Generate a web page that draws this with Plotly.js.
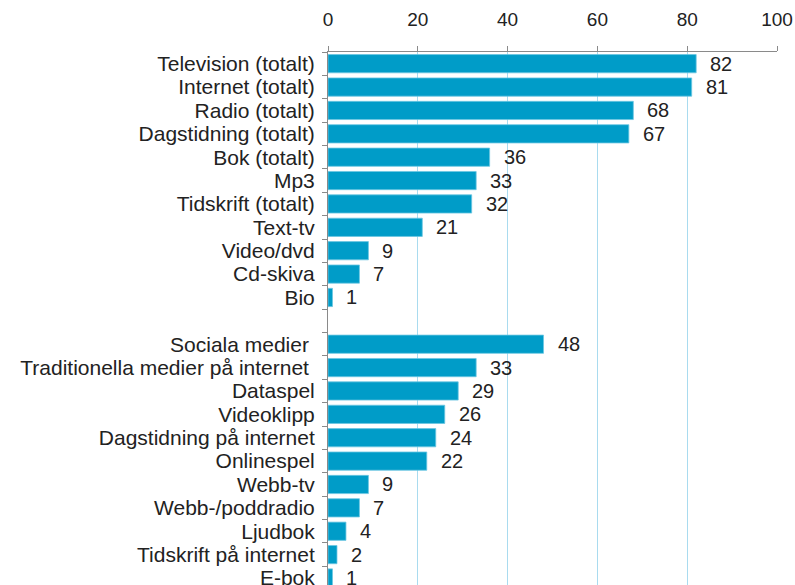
<!DOCTYPE html>
<html>
<head>
<meta charset="utf-8">
<script src="https://cdn.plot.ly/plotly-3.0.1.min.js"></script>
<style>html,body{margin:0;padding:0;background:#fff;}#chart{width:795px;height:585px;}</style>
</head>
<body>
<div id="chart"></div>
<script>
// Group 1: traditional media (totalt)
const group1Labels = ["Television (totalt)", "Internet (totalt)", "Radio (totalt)", "Dagstidning (totalt)", "Bok (totalt)", "Mp3", "Tidskrift (totalt)", "Text-tv", "Video/dvd", "Cd-skiva", "Bio"];
const group1Values = [82, 81, 68, 67, 36, 33, 32, 21, 9, 7, 1];
// Group 2: internet activities
const group2Labels = ["Sociala medier ", "Traditionella medier på internet ", "Dataspel", "Videoklipp", "Dagstidning på internet", "Onlinespel", "Webb-tv", "Webb-/poddradio", "Ljudbok", "Tidskrift på internet", "E-bok"];
const group2Values = [48, 33, 29, 26, 24, 22, 9, 7, 4, 2, 1];
const spacerLabel = " ";
const xTicks = [0, 20, 40, 60, 80, 100];

const categories = group1Labels.concat([spacerLabel], group2Labels);
const values = group1Values.concat([null], group2Values);

const font = "Liberation Sans, Arial, sans-serif";

const trace = {
  type: "bar",
  orientation: "h",
  x: values,
  y: categories,
  width: 0.78,
  marker: {color: "#009cc8", line: {color: "#6cc6e2", width: 0.8}},
  hoverinfo: "x+y"
};

const annotations = [];
categories.forEach((c, i) => {
  if (values[i] === null) return;
  annotations.push({
    x: values[i], y: c, xref: "x", yref: "y",
    text: String(values[i]), showarrow: false,
    xanchor: "left", yanchor: "middle", xshift: 12,
    font: {family: font, size: 20, color: "#222"}
  });
});

const layout = {
  width: 795, height: 585,
  margin: {l: 328, r: 18, t: 52, b: 0, pad: 0},
  paper_bgcolor: "#fff", plot_bgcolor: "#fff",
  showlegend: false,
  font: {family: font, size: 20, color: "#222"},
  xaxis: {
    side: "top", range: [0, 100], tickmode: "array", tickvals: xTicks, ticktext: xTicks.map(String),
    showgrid: true, gridcolor: "#a9dbef", gridwidth: 1,
    zeroline: false, showline: true, linecolor: "#8a8a8a", linewidth: 1,
    ticks: "outside", ticklen: 5, tickcolor: "#8a8a8a", ticklabelstandoff: 12,
    tickfont: {family: font, size: 19, color: "#222"}, fixedrange: true
  },
  yaxis: {
    type: "category", categoryorder: "array", categoryarray: categories,
    tickmode: "array", tickvals: categories, ticktext: categories,
    range: [22.3, -0.5],
    showgrid: false, zeroline: false, showline: true, linecolor: "#8a8a8a", linewidth: 1,
    ticks: "outside", tickson: "boundaries", ticklen: 5, tickcolor: "#8a8a8a",
    ticklabelstandoff: 8,
    tickfont: {family: font, size: 21, color: "#222"}, fixedrange: true
  },
  annotations: annotations
};

Plotly.newPlot("chart", [trace], layout, {displayModeBar: false, staticPlot: true});
</script>
</body>
</html>
